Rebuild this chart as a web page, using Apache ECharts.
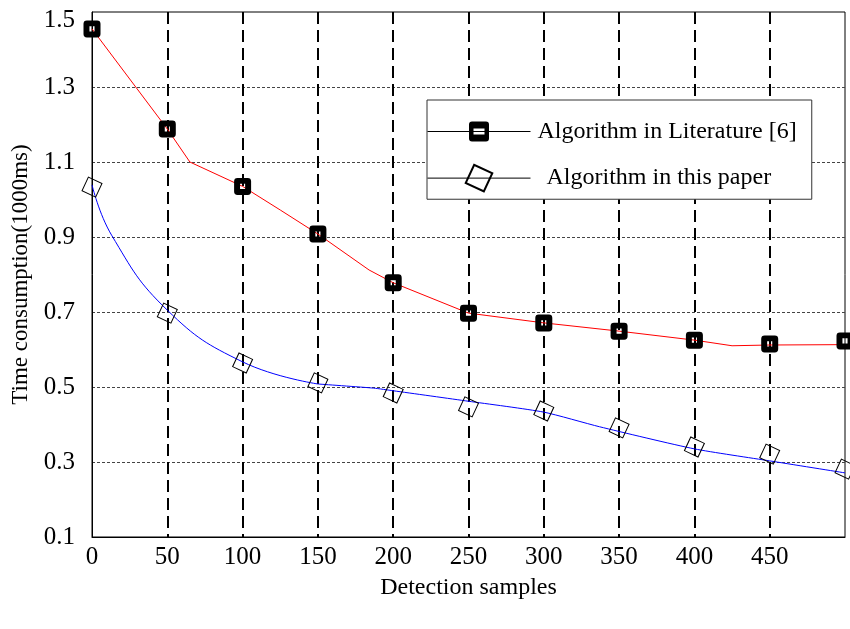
<!DOCTYPE html>
<html><head><meta charset="utf-8">
<script src="https://cdn.jsdelivr.net/npm/echarts@6/dist/echarts.min.js"></script>
<style>html,body{margin:0;padding:0;background:#fff}#c{width:850px;height:629px}</style>
</head><body><div id="c"></div>
<script>
// ---- data ----
const seriesNames = ['Algorithm in Literature [6]', 'Algorithm in this paper'];
const samples = [0, 50, 100, 150, 200, 250, 300, 350, 400, 450, 500];
const litMarkers = [1.455, 1.188, 1.035, 0.908, 0.778, 0.697, 0.671, 0.649, 0.625, 0.615, 0.623];
const litLineX = [0, 50, 65, 100, 125, 150, 184, 200, 250, 300, 350, 400, 425, 450, 500];
const litLineY = [1.455, 1.188, 1.10, 1.035, 0.972, 0.908, 0.812, 0.778, 0.697, 0.671, 0.649, 0.625, 0.610, 0.612, 0.613];
const oursMarkers = [1.033, 0.697, 0.564, 0.511, 0.484, 0.447, 0.436, 0.391, 0.340, 0.321, 0.281];
// curved part of the "this paper" line
const oursCurveX = [0, 13, 50, 100, 150];
const oursCurveY = [1.039, 0.905, 0.705, 0.567, 0.508];
// nearly straight part of the "this paper" line
const oursTailX = [150, 187, 200, 250, 300, 337, 400, 450, 500];
const oursTailY = [0.508, 0.497, 0.49, 0.462, 0.433, 0.394, 0.335, 0.303, 0.271];
const yTickLabels = ['0.1', '0.3', '0.5', '0.7', '0.9', '1.1', '1.3', '1.5'];
const xTickLabels = ['0', '50', '100', '150', '200', '250', '300', '350', '400', '450', ''];
const xName = 'Detection samples';
const yName = 'Time consumption(1000ms)';

// y axis starts at 0.1; plot as offset so ticks fall on 0.1, 0.3, ...
const yBase = 0.1;
const pairs = (xs, ys) => xs.map((x, i) => [x, +(ys[i] - yBase).toFixed(4)]);

const FONT = 'Liberation Serif';
const squarePath = 'path://M4,0H16Q20,0 20,4V16Q20,20 16,20H4Q0,20 0,16V4Q0,0 4,0ZM7,7V13H13V7Z';
const legendSquarePath = 'path://M3,0H17Q20,0 20,3V17Q20,20 17,20H3Q0,20 0,17V3Q0,0 3,0ZM4.5,7V13H15.5V7Z';

const chart = echarts.init(document.getElementById('c'));
chart.setOption({
  animation: false,
  backgroundColor: '#fff',
  grid: { left: 92, right: 5, top: 12, bottom: 92, show: true, borderColor: '#000', borderWidth: 1, backgroundColor: 'transparent', outerBoundsMode: 'none' },
  legend: {
    data: seriesNames,
    orient: 'vertical',
    left: 427, top: 100,
    itemWidth: 103, itemHeight: 25, itemGap: 20,
    padding: [19.5, 15, 6.5, 0],
    backgroundColor: '#fff', borderColor: '#333', borderWidth: 1,
    selectedMode: false,
    lineStyle: { color: '#000', width: 1 },
    formatter: n => n === seriesNames[0] ? '{a|' + n + '}' : '{b|' + n + '}',
    textStyle: {
      fontFamily: FONT, fontSize: 24, color: '#000',
      rich: {
        a: { fontFamily: FONT, fontSize: 24, color: '#000', padding: [0, 0, 0, 2] },
        b: { fontFamily: FONT, fontSize: 24, color: '#000', padding: [0, 0, 0, 11] }
      }
    }
  },
  xAxis: {
    type: 'value', min: 0, max: 500, interval: 50,
    name: xName, nameLocation: 'middle', nameGap: 39,
    nameTextStyle: { fontFamily: FONT, fontSize: 24, color: '#000' },
    axisLine: { show: true, lineStyle: { color: '#000', width: 1 } },
    axisTick: { show: false },
    axisLabel: {
      fontFamily: FONT, fontSize: 25, color: '#000', margin: 8,
      formatter: v => xTickLabels[Math.round(v / 50)] ?? ''
    },
    splitLine: { show: true, showMinLine: false, showMaxLine: false, lineStyle: { color: '#000', width: 2, type: [12, 6] } }
  },
  yAxis: {
    type: 'value', min: 0, max: 1.4, interval: 0.2,
    name: yName, nameLocation: 'middle', nameGap: 58, nameRotate: 90,
    nameTextStyle: { fontFamily: FONT, fontSize: 23, color: '#000' },
    axisLine: { show: true, lineStyle: { color: '#000', width: 1 } },
    axisTick: { show: false },
    axisLabel: {
      fontFamily: FONT, fontSize: 25, color: '#000', margin: 17,
      formatter: v => {
        const i = Math.round(v / 0.2);
        return i === yTickLabels.length - 1 ? '{top|' + yTickLabels[i] + '}' : yTickLabels[i];
      },
      rich: { top: { fontFamily: FONT, fontSize: 25, color: '#000', padding: [16, 0, 0, 0] } }
    },
    splitLine: { show: true, showMinLine: false, showMaxLine: false, lineStyle: { color: '#444', width: 1, type: [3, 2] } }
  },
  series: [
    {
      name: seriesNames[0], type: 'line', data: pairs(litLineX, litLineY),
      showSymbol: false, symbol: legendSquarePath, symbolRotate: 0,
      itemStyle: { color: '#000' },
      lineStyle: { color: '#ff0000', width: 1 },
      clip: false, silent: true, z: 3
    },
    {
      name: seriesNames[1], type: 'line', data: pairs(oursCurveX, oursCurveY),
      smooth: 0.45,
      showSymbol: false, symbol: 'rect', symbolRotate: -25,
      itemStyle: { color: 'rgba(0,0,0,0)', borderColor: '#000', borderWidth: 1 },
      lineStyle: { color: '#0000ff', width: 1 },
      clip: false, silent: true, z: 3
    },
    {
      name: 'oursTail', type: 'line', data: pairs(oursTailX, oursTailY),
      smooth: 0.2,
      showSymbol: false,
      lineStyle: { color: '#0000ff', width: 1 },
      clip: false, silent: true, z: 3
    },
    {
      name: 'litMarkers', type: 'scatter', data: pairs(samples, litMarkers),
      symbol: squarePath, symbolSize: 17,
      itemStyle: { color: '#000', opacity: 1 },
      clip: false, silent: true, z: 5
    },
    {
      name: 'oursMarkers', type: 'scatter', data: pairs(samples, oursMarkers),
      symbol: 'rect', symbolSize: 15, symbolRotate: -25,
      itemStyle: { color: 'rgba(0,0,0,0)', borderColor: '#000', borderWidth: 1, opacity: 1 },
      clip: false, silent: true, z: 5
    }
  ]
});
</script>
</body></html>
